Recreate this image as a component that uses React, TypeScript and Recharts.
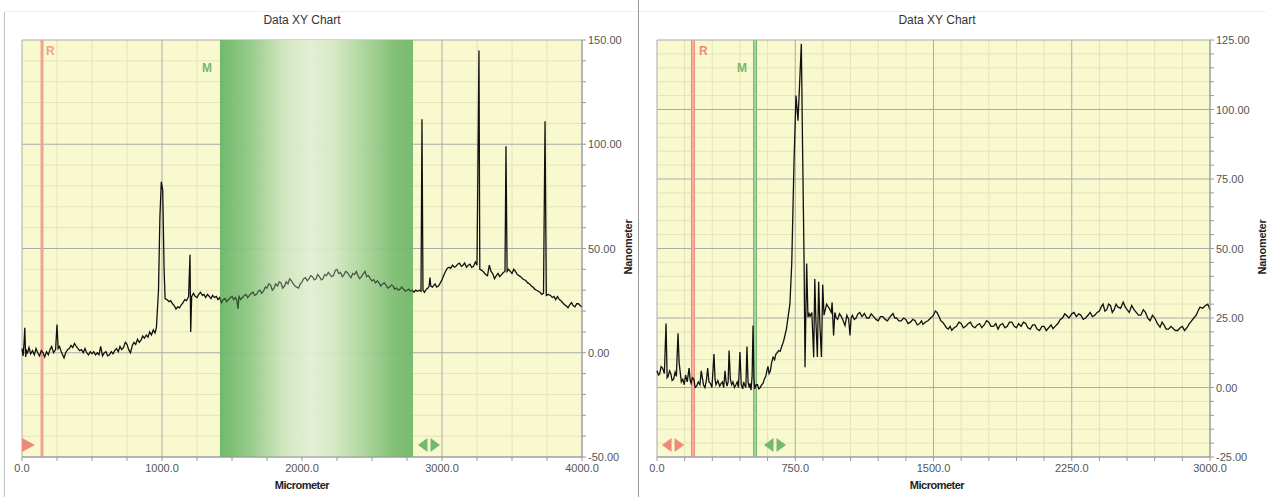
import React from "react";
import {
  LineChart,
  Line,
  XAxis,
  YAxis,
  CartesianGrid,
  ReferenceArea,
  ReferenceLine,
  ReferenceDot,
} from "recharts";

// profile traces: [micrometer, nanometer]
const leftTrace: [number, number][] = [
  [0, 2], [8, -1.5], [14, 4], [20, 12], [26, -2], [32, 1], [40, 0], [50, 2.5], [62, -0.5], [75, 1],
  [88, -1], [100, 2], [112, 0], [125, -1.5], [138, 1], [150, 0], [162, -2], [175, 0.5], [188, -1], [200, 1.5],
  [212, 3], [225, 0], [240, 1.5], [250, 13.5], [258, 2], [268, 3], [280, 0.5], [290, -1], [300, -2.5], [312, 0],
  [325, 1.5], [338, 2], [350, 3.5], [362, 2.5], [375, 4.5], [388, 3], [400, 2], [412, 1], [425, 1.5], [438, 0],
  [450, 2], [462, 0], [475, -1], [488, 0.5], [500, -0.5], [512, 0.5], [525, -1], [538, 0], [550, -1], [562, 3],
  [575, -1.5], [588, 0], [600, 0.5], [612, -1.5], [625, -1], [638, 0.5], [650, -0.5], [662, 1], [675, 2], [688, 0.5],
  [700, 3], [712, 1.5], [725, 2.5], [738, 5], [750, 4], [762, 1.5], [775, 0], [788, 3.5], [800, 5], [812, 4],
  [825, 6.5], [838, 5], [850, 6], [862, 8], [875, 7], [888, 8.5], [900, 7.5], [912, 10], [925, 8.5], [938, 11],
  [950, 9.5], [960, 12], [975, 30], [985, 65], [995, 82], [1005, 78], [1015, 40], [1022, 26], [1035, 25.5], [1050, 24.5],
  [1062, 25], [1075, 23.5], [1088, 22.5], [1100, 21], [1112, 22], [1125, 21.5], [1138, 23], [1150, 24], [1162, 25.5], [1175, 25],
  [1190, 27], [1200, 47], [1205, 10], [1212, 27], [1225, 28.5], [1238, 27], [1250, 26.5], [1262, 28], [1275, 29], [1288, 27.5],
  [1300, 28], [1312, 26.5], [1325, 28], [1338, 27], [1350, 26], [1362, 27.5], [1375, 26.5], [1388, 27], [1400, 25.5], [1412, 26.5],
  [1425, 24], [1438, 25.5], [1450, 26], [1462, 24.5], [1475, 25.5], [1488, 26.5], [1500, 27], [1512, 25.5], [1525, 26.5], [1535, 25],
  [1543, 21], [1550, 27], [1562, 25.5], [1575, 26.5], [1588, 27.5], [1600, 28], [1612, 26.5], [1625, 27.5], [1638, 28.5], [1650, 29],
  [1662, 27.5], [1675, 28], [1688, 29.5], [1700, 30], [1712, 28.5], [1725, 29.5], [1738, 31.5], [1750, 31], [1762, 33], [1775, 32.5],
  [1788, 30], [1800, 31], [1812, 33], [1825, 32], [1838, 34], [1850, 33.5], [1862, 31], [1875, 32], [1888, 34], [1900, 33],
  [1912, 35.5], [1925, 34.5], [1938, 33], [1950, 32], [1962, 31.5], [1975, 31], [1988, 33], [2000, 34], [2012, 35.5], [2025, 36],
  [2038, 34.5], [2050, 35.5], [2062, 37], [2075, 36.5], [2088, 35], [2100, 35.5], [2112, 37.5], [2125, 36.5], [2138, 35], [2150, 35.5],
  [2162, 37.5], [2175, 37], [2188, 38.5], [2200, 37.5], [2212, 36.5], [2225, 37], [2238, 39.5], [2250, 40], [2262, 38], [2275, 38.5],
  [2288, 36.5], [2300, 37.5], [2312, 39], [2325, 38.5], [2338, 37], [2350, 36], [2362, 38], [2375, 37.5], [2388, 39], [2400, 37],
  [2412, 35.5], [2425, 36.5], [2438, 38], [2450, 39], [2462, 36.5], [2475, 37], [2488, 35.5], [2500, 34.5], [2512, 35], [2525, 33.5],
  [2538, 34.5], [2550, 33.5], [2562, 32], [2575, 33], [2588, 33.5], [2600, 32.5], [2612, 31], [2625, 31.5], [2638, 32.5], [2650, 32],
  [2662, 30.5], [2675, 31], [2688, 30], [2700, 30.5], [2712, 31.5], [2725, 30.5], [2738, 29.5], [2750, 30], [2762, 30.5], [2775, 29.5],
  [2788, 30], [2800, 29], [2812, 30], [2825, 29.5], [2838, 30], [2850, 29.5], [2857, 112], [2864, 30], [2875, 29], [2888, 30.5],
  [2900, 31], [2908, 32], [2914, 36], [2920, 32], [2932, 31.5], [2950, 33], [2962, 31.5], [2975, 32], [2988, 33.5], [3000, 35],
  [3012, 37], [3025, 39], [3038, 40.5], [3050, 41], [3062, 40.5], [3075, 42], [3088, 41], [3100, 41.5], [3112, 42.5], [3125, 43],
  [3138, 41.5], [3150, 42], [3162, 43], [3175, 41], [3188, 42], [3200, 42.5], [3212, 41], [3225, 41.5], [3238, 43.5], [3250, 42],
  [3264, 145], [3270, 40], [3285, 39.5], [3300, 38.5], [3312, 37.5], [3325, 37], [3338, 42], [3350, 39], [3362, 38], [3375, 35.5],
  [3388, 37], [3400, 38], [3412, 36.5], [3425, 37.5], [3438, 38.5], [3450, 39], [3457, 99], [3465, 39], [3475, 40], [3488, 39],
  [3500, 38], [3512, 40], [3525, 39], [3538, 37.5], [3550, 37], [3562, 36.5], [3575, 35.5], [3588, 35], [3600, 34.5], [3612, 33.5],
  [3625, 33], [3638, 32], [3650, 31.5], [3662, 30.5], [3675, 30], [3688, 29.5], [3700, 29], [3712, 28], [3725, 28.5], [3736, 111],
  [3745, 27.5], [3760, 28], [3775, 27.5], [3788, 26.5], [3800, 27], [3812, 25.5], [3825, 27], [3838, 25.5], [3850, 25], [3862, 24],
  [3875, 23], [3888, 22.5], [3900, 21.5], [3912, 23], [3925, 24], [3938, 22.5], [3950, 22], [3962, 23.5], [3975, 23.5], [3988, 22.5],
  [4000, 22],
];

const rightTrace: [number, number][] = [
  [0, 6], [8, 4.5], [15, 5], [22, 7.5], [30, 7], [40, 5], [49, 23], [55, 3.5], [60, 4], [68, 6],
  [75, 5], [82, 2.5], [90, 3], [98, 5.5], [105, 4], [114, 19.5], [120, 9], [125, 6], [132, 2], [140, 3],
  [148, 1], [155, 4.5], [164, 2], [174, 7], [180, 2.5], [185, 1.5], [192, 3.5], [200, 3], [207, 0], [215, 0.5],
  [224, 2], [233, 1], [240, 6], [245, 4], [252, 1], [260, 0], [268, 2.5], [275, 7], [282, 2], [290, 1.5],
  [298, 0], [309, 12], [315, 3], [320, 1], [330, 2.5], [340, 0.5], [348, 1.5], [355, 2], [362, 0], [369, 6],
  [375, 2], [380, 0.5], [386, 2], [391, 13.3], [398, 3], [405, 1], [412, 2], [420, 0], [428, 1], [435, 2],
  [442, 0], [450, 12.8], [457, 1], [465, -0.5], [470, 2], [475, 1], [482, 0], [488, 14.7], [494, 2], [500, 0],
  [505, 1.5], [510, -1], [516, 4], [521, 22.3], [526, 3], [530, -0.5], [538, 1], [545, 1], [552, -0.5], [560, 0],
  [568, 1], [575, 1.5], [582, 3], [590, 4], [596, 6], [602, 7.6], [608, 5], [615, 6], [622, 9], [630, 10.9],
  [638, 10], [645, 12], [652, 12.5], [660, 13.3], [668, 13], [678, 15], [686, 16.5], [694, 18.7], [702, 21], [711, 25.3],
  [721, 30], [731, 44.6], [743, 80.5], [754, 105], [765, 96], [783, 123.6], [790, 85], [798, 44.6], [803, 7.3], [812, 44.6],
  [819, 25.3], [825, 26.5], [830, 25.6], [840, 27], [850, 10.9], [856, 39], [862, 24], [870, 11], [877, 38], [884, 22],
  [892, 11], [899, 37], [906, 26], [920, 30], [935, 28.4], [945, 27], [950, 30.6], [958, 18.7], [965, 27], [972, 25],
  [980, 24.5], [990, 26.5], [1000, 25.5], [1010, 24], [1020, 22.3], [1030, 26], [1040, 24.5], [1047, 18.7], [1053, 25], [1060, 26],
  [1070, 24.5], [1080, 25], [1090, 26.5], [1100, 27], [1112, 25.5], [1125, 26.6], [1138, 25], [1150, 25], [1162, 26.5], [1175, 25.5],
  [1188, 24.5], [1200, 24], [1212, 25.5], [1225, 25.5], [1238, 24.5], [1250, 24], [1265, 25.5], [1280, 26.6], [1290, 25], [1300, 25],
  [1312, 24], [1325, 24], [1338, 25], [1350, 24.5], [1362, 23], [1375, 23.5], [1388, 24.5], [1400, 24], [1412, 22.5], [1425, 23],
  [1435, 24], [1443, 22.7], [1455, 23.5], [1470, 24], [1485, 25], [1500, 26], [1510, 27.5], [1519, 27], [1530, 25.5], [1540, 24],
  [1550, 23.5], [1560, 22.5], [1570, 21.5], [1580, 21], [1590, 22], [1599, 20.6], [1612, 21.5], [1625, 22], [1638, 23.5], [1650, 23],
  [1662, 21.5], [1675, 22], [1688, 23], [1700, 23.5], [1712, 22], [1725, 21.5], [1738, 22.5], [1750, 23], [1762, 21.5], [1775, 22.5],
  [1788, 24], [1800, 23.5], [1812, 22], [1825, 22], [1838, 23], [1850, 21], [1862, 22.5], [1875, 23], [1888, 21.5], [1900, 22],
  [1912, 23.5], [1925, 23.5], [1938, 22], [1950, 21.5], [1962, 23], [1975, 22], [1988, 23.5], [2000, 23], [2012, 21.5], [2025, 21],
  [2038, 22.5], [2050, 22.5], [2062, 21], [2075, 20.5], [2088, 22], [2100, 22], [2112, 20.5], [2125, 21.5], [2138, 22.5], [2148, 21.2],
  [2160, 22], [2175, 23], [2188, 24.5], [2200, 25], [2212, 26.5], [2222, 25.9], [2235, 25], [2250, 26.5], [2262, 27], [2275, 25.5],
  [2288, 26.5], [2300, 26], [2312, 24.5], [2325, 25], [2338, 26], [2350, 27], [2362, 25.5], [2375, 26], [2388, 27], [2400, 27.5],
  [2410, 29], [2420, 30], [2430, 27.5], [2440, 28], [2450, 30], [2460, 29.5], [2470, 27], [2480, 28], [2490, 30], [2500, 29],
  [2515, 28.5], [2529, 30.7], [2540, 29], [2550, 28], [2562, 27], [2575, 29.5], [2588, 28], [2600, 27], [2612, 26], [2625, 26],
  [2638, 28], [2650, 27], [2662, 25], [2675, 24], [2688, 26], [2700, 25], [2715, 23], [2729, 21.7], [2740, 23.5], [2750, 22.5],
  [2762, 21], [2775, 21], [2788, 22], [2800, 21.2], [2812, 20.5], [2825, 20.5], [2838, 21.5], [2850, 22], [2862, 20.5], [2875, 21.5],
  [2888, 23], [2900, 24], [2912, 25], [2925, 26], [2935, 27.5], [2946, 28.9], [2960, 28.5], [2975, 29.5], [2988, 30], [3000, 28],
];

const leftXMajor = [0, 1000, 2000, 3000, 4000];
const leftXMinor = [250, 500, 750, 1250, 1500, 1750, 2250, 2500, 2750, 3250, 3500, 3750];
const leftYMajor = [-50, 0, 50, 100, 150];
const leftYMinor = [-40, -30, -20, -10, 10, 20, 30, 40, 60, 70, 80, 90, 110, 120, 130, 140];

const rightXMajor = [0, 750, 1500, 2250, 3000];
const rightXMinor = [150, 300, 450, 600, 900, 1050, 1200, 1350, 1650, 1800, 1950, 2100, 2400, 2550, 2700, 2850];
const rightYMajor = [-25, 0, 25, 50, 75, 100, 125];
const rightYMinor = [-20, -15, -10, -5, 5, 10, 15, 20, 30, 35, 40, 45, 55, 60, 65, 70, 80, 85, 90, 95, 105, 110, 115, 120];

// cursors: R reference, M measure (band on the left, single line on the right)
const leftR = 143;
const leftMBand = [1414, 2793];
const leftArrows = [0, 2907]; // red handle, green handle
const rightR = 195;
const rightM = 532;
const rightArrows = [87, 640];

const RED = "#f08a78";
const GREEN = "#74b96d";
const FONT = "'Liberation Sans', Arial, sans-serif";

const toRows = (t: [number, number][]) => t.map(([x, y]) => ({ x, y }));

function xTick(majors: number[]) {
  return (p: any) => {
    const v = p.payload.value;
    if (!majors.includes(v)) return <g />;
    return (
      <text x={p.x} y={p.y} dy={9} textAnchor="middle" fontSize={11} fill="#555" fontFamily={FONT}>
        {v.toFixed(1)}
      </text>
    );
  };
}

function yTick(majors: number[]) {
  return (p: any) => {
    const v = p.payload.value;
    if (!majors.includes(v)) return <g />;
    return (
      <text x={p.x} y={p.y} dy={4} textAnchor="start" fontSize={11} fill="#555" fontFamily={FONT}>
        {v.toFixed(2)}
      </text>
    );
  };
}

const letter = (txt: string, color: string, dx: number, dy: number, anchor: string) => (p: any) => {
  const vb = p.viewBox || {};
  return (
    <text x={vb.x + dx} y={vb.y + dy} fill={color} fontSize={12} fontWeight="bold" textAnchor={anchor} fontFamily={FONT}>
      {txt}
    </text>
  );
};

const singleArrow = (color: string) => (p: any) => (
  <polygon points={`${p.cx},${p.cy - 19} ${p.cx},${p.cy - 5} ${p.cx + 13},${p.cy - 12}`} fill={color} />
);

const doubleArrow = (color: string) => (p: any) => (
  <g fill={color}>
    <polygon points={`${p.cx - 1.5},${p.cy - 19} ${p.cx - 1.5},${p.cy - 5} ${p.cx - 11},${p.cy - 12}`} />
    <polygon points={`${p.cx + 1.5},${p.cy - 19} ${p.cx + 1.5},${p.cy - 5} ${p.cx + 11},${p.cy - 12}`} />
  </g>
);

function Captions({ center, width }: { center: number; width: number }) {
  return (
    <>
      <div style={{ position: "absolute", left: 0, width, top: 13, textAlign: "center", fontSize: 12, color: "#333", fontFamily: FONT, transform: `translateX(${center - width / 2}px)` }}>
        Data XY Chart
      </div>
      <div style={{ position: "absolute", left: 0, width, top: 479, textAlign: "center", fontSize: 11, fontWeight: "bold", color: "#222", fontFamily: FONT, letterSpacing: -0.5, transform: `translateX(${center - width / 2}px)` }}>
        Micrometer
      </div>
    </>
  );
}

function SideLabel({ x }: { x: number }) {
  return (
    <div style={{ position: "absolute", left: x - 40, top: 241, width: 80, textAlign: "center", fontSize: 11, fontWeight: "bold", color: "#222", fontFamily: FONT, transform: "rotate(-90deg)", letterSpacing: -0.3 }}>
      Nanometer
    </div>
  );
}

function LeftPanel() {
  return (
    <div style={{ position: "absolute", left: 0, top: 0, width: 638, height: 497 }}>
      <LineChart width={638} height={497} data={toRows(leftTrace)} margin={{ top: 40, right: 16, bottom: 0, left: 22 }}>
        <defs>
          <linearGradient id="mBand" x1="0" y1="0" x2="1" y2="0">
            <stop offset="0" stopColor="#68b565" />
            <stop offset="0.15" stopColor="#8ec784" />
            <stop offset="0.33" stopColor="#cfe5bf" />
            <stop offset="0.47" stopColor="#e3eed5" />
            <stop offset="0.6" stopColor="#d2e7c3" />
            <stop offset="0.78" stopColor="#9fcf91" />
            <stop offset="0.9" stopColor="#7cbd72" />
            <stop offset="1" stopColor="#70b76a" />
          </linearGradient>
        </defs>
        <CartesianGrid fill="#f9f9d0" stroke="#e4e4b8" horizontalValues={leftYMinor} verticalValues={leftXMinor} />
        <CartesianGrid fill="none" stroke="#aaaaaa" horizontalValues={leftYMajor} verticalValues={leftXMajor} />
        <ReferenceArea x1={leftMBand[0]} x2={leftMBand[1]} fill="url(#mBand)" fillOpacity={0.9} stroke="none" label={letter("M", GREEN, -13, 32, "middle")} />
        <XAxis type="number" dataKey="x" domain={[0, 4000]} ticks={[...leftXMajor, ...leftXMinor].sort((a, b) => a - b)} interval={0} tickSize={4} stroke="#999" tick={xTick(leftXMajor)} height={40} />
        <YAxis type="number" orientation="right" domain={[-50, 150]} ticks={[...leftYMajor, ...leftYMinor].sort((a, b) => a - b)} interval={0} tickSize={4} stroke="#999" tick={yTick(leftYMajor)} width={40} />
        <ReferenceLine x={leftR} stroke="#f2a292" strokeWidth={3} label={letter("R", "#f2a090", 4, 15, "start")} />
        <ReferenceDot x={leftArrows[0]} y={-50} r={0} shape={singleArrow(RED)} />
        <ReferenceDot x={leftArrows[1]} y={-50} r={0} shape={doubleArrow(GREEN)} />
        <Line type="linear" dataKey="y" stroke="#111" strokeWidth={1.3} dot={false} isAnimationActive={false} />
        <ReferenceArea x1={leftMBand[0]} x2={leftMBand[1]} fill="url(#mBand)" fillOpacity={0.35} stroke="none" zIndex={450} />
      </LineChart>
      <Captions center={302} width={638} />
      <SideLabel x={628} />
    </div>
  );
}

function RightPanel() {
  return (
    <div style={{ position: "absolute", left: 638, top: 0, width: 633, height: 497 }}>
      <LineChart width={633} height={497} data={toRows(rightTrace)} margin={{ top: 40, right: 21, bottom: 0, left: 19 }}>
        <CartesianGrid fill="#f9f9d0" stroke="#e4e4b8" horizontalValues={rightYMinor} verticalValues={rightXMinor} />
        <CartesianGrid fill="none" stroke="#aaaaaa" horizontalValues={rightYMajor} verticalValues={rightXMajor} />
        <XAxis type="number" dataKey="x" domain={[0, 3000]} ticks={[...rightXMajor, ...rightXMinor].sort((a, b) => a - b)} interval={0} tickSize={4} stroke="#999" tick={xTick(rightXMajor)} height={40} />
        <YAxis type="number" orientation="right" domain={[-25, 125]} ticks={[...rightYMajor, ...rightYMinor].sort((a, b) => a - b)} interval={0} tickSize={4} stroke="#999" tick={yTick(rightYMajor)} width={40} />
        <ReferenceLine x={rightR} stroke={RED} strokeWidth={4} label={letter("R", RED, 6, 15, "start")} />
        <ReferenceLine x={rightR} stroke="#fbd3c8" strokeWidth={1} />
        <ReferenceLine x={rightM} stroke={GREEN} strokeWidth={4} label={letter("M", GREEN, -13, 32, "middle")} />
        <ReferenceLine x={rightM} stroke="#d3ebca" strokeWidth={1} />
        <ReferenceDot x={rightArrows[0]} y={-25} r={0} shape={doubleArrow(RED)} />
        <ReferenceDot x={rightArrows[1]} y={-25} r={0} shape={doubleArrow(GREEN)} />
        <Line type="linear" dataKey="y" stroke="#111" strokeWidth={1.3} dot={false} isAnimationActive={false} />
      </LineChart>
      <Captions center={299} width={633} />
      <SideLabel x={624} />
    </div>
  );
}

export default function App() {
  return (
    <div style={{ position: "absolute", left: 0, top: 0, width: 1271, height: 497, background: "#fff", overflow: "hidden" }}>
      <LeftPanel />
      <RightPanel />
      <div style={{ position: "absolute", left: 4, top: 11, width: 1, height: 486, background: "#c4c4c4" }} />
      <div style={{ position: "absolute", left: 4, top: 11, width: 1262, height: 1, background: "#f0f0f0" }} />
      <div style={{ position: "absolute", left: 638, top: 0, width: 1, height: 497, background: "#9a9a9a" }} />
    </div>
  );
}
